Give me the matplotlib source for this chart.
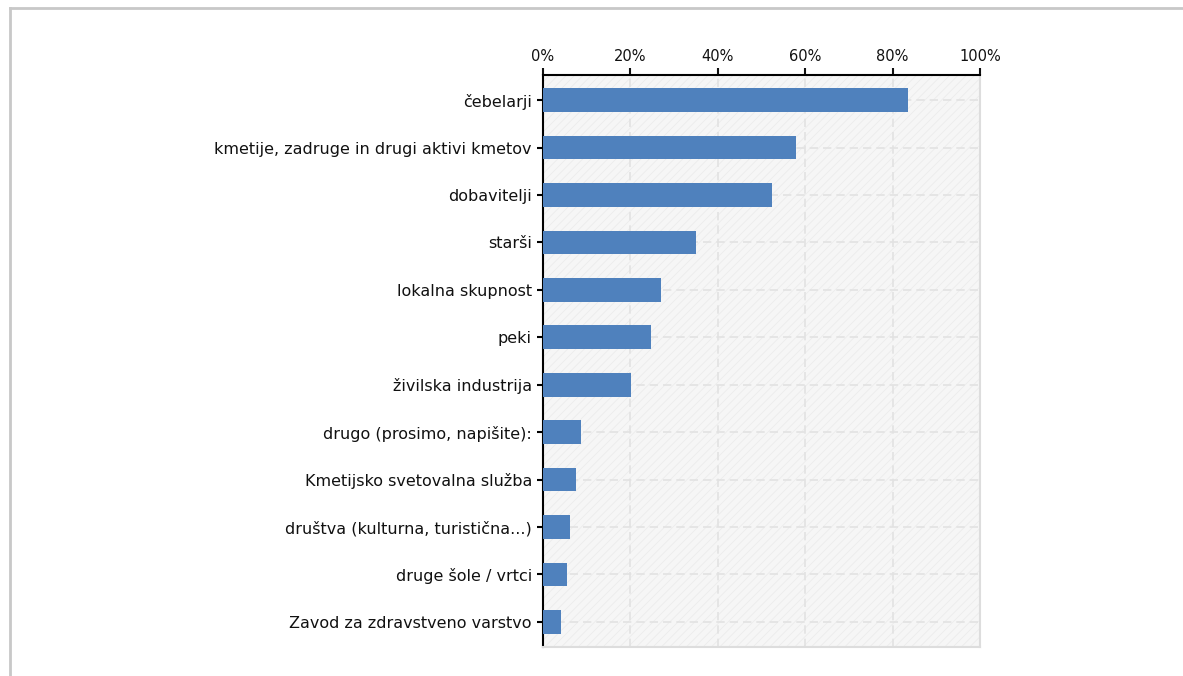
import matplotlib.pyplot as plt
from matplotlib.lines import Line2D
from matplotlib.ticker import FuncFormatter

# podatki (odčitani s slike)
categories = [
    "čebelarji",
    "kmetije, zadruge in drugi aktivi kmetov",
    "dobavitelji",
    "starši",
    "lokalna skupnost",
    "peki",
    "živilska industrija",
    "drugo (prosimo, napišite):",
    "Kmetijsko svetovalna služba",
    "društva (kulturna, turistična...)",
    "druge šole / vrtci",
    "Zavod za zdravstveno varstvo",
]
values = [83.5, 57.8, 52.3, 35.1, 27.1, 24.8, 20.2, 8.7, 7.6, 6.2, 5.5, 4.1]
xticks = [0, 20, 40, 60, 80, 100]

plt.rcParams["hatch.linewidth"] = 0.6

fig = plt.figure(figsize=(11.83, 6.76), dpi=100)
ax = fig.add_axes([543 / 1183, 1 - 647 / 676, 437 / 1183, 572 / 676])

# ozadje s šrafuro
ax.set_facecolor("#f6f6f6")
ax.add_patch(plt.Rectangle((0, -0.53), 100, 12.06, facecolor="none",
                           edgecolor="#ececec", hatch="////", lw=0, zorder=0))

ypos = list(range(len(categories)))
ax.barh(ypos, values, height=0.5, color="#4f81bd", zorder=3)

ax.set_xlim(0, 100)
ax.set_ylim(len(categories) - 0.47, -0.53)
ax.set_yticks(ypos)
ax.set_yticklabels(categories, fontsize=11.5, color="#111111")
ax.set_xticks(xticks)
ax.xaxis.set_major_formatter(FuncFormatter(lambda v, p: "%d%%" % v))
ax.xaxis.tick_top()
ax.tick_params(axis="x", direction="out", length=5, width=1.5, labelsize=10.5,
               pad=3, colors="#111111")
ax.tick_params(axis="y", direction="out", length=4, width=1.5, pad=4)

ax.grid(True, color="#e2e2e2", linestyle=(0, (5, 3)), linewidth=1.2, zorder=1)
ax.set_axisbelow(True)

ax.spines["top"].set_linewidth(1.5)
ax.spines["left"].set_linewidth(1.5)
ax.spines["right"].set_color("#dddddd")
ax.spines["right"].set_linewidth(1.5)
ax.spines["bottom"].set_color("#dddddd")
ax.spines["bottom"].set_linewidth(1.5)

# okvir slike (le levo in zgoraj)
fig.add_artist(Line2D([10 / 1183, 10 / 1183], [0, 1 - 8 / 676],
                      transform=fig.transFigure, color="#c8c8c8", lw=2))
fig.add_artist(Line2D([10 / 1183, 1], [1 - 8 / 676, 1 - 8 / 676],
                      transform=fig.transFigure, color="#c8c8c8", lw=2))

plt.savefig("out.png", dpi=100)
